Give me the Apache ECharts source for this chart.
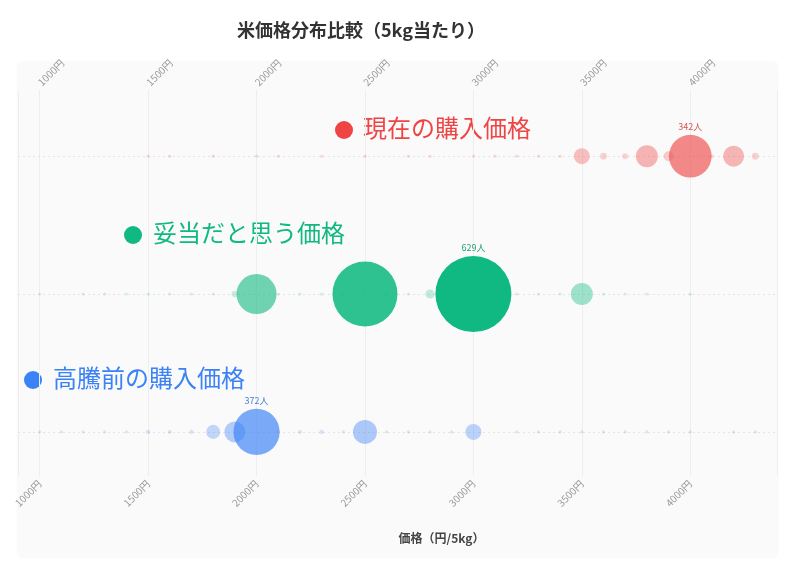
<!DOCTYPE html>
<html>
<head>
<meta charset="utf-8">
<script src="https://cdn.jsdelivr.net/npm/echarts@6/dist/echarts.min.js"></script>
<style>
  html, body { margin: 0; padding: 0; background: #fff; }
  #main { width: 787px; height: 572px; }
</style>
</head>
<body>
<div id="main"></div>
<script>
// 価格帯（円/5kg）
var prices = [1000, 1100, 1200, 1300, 1400, 1500, 1600, 1700, 1800, 1900,
              2000, 2100, 2200, 2300, 2400, 2500, 2600, 2700, 2800, 2900,
              3000, 3100, 3200, 3300, 3400, 3500, 3600, 3700, 3800, 3900,
              4000, 4100, 4200, 4300];

var rowNames = ['高騰前の購入価格', '妥当だと思う価格', '現在の購入価格'];
var rowColors = ['#3b82f6', '#10b981', '#ef4444'];
var labelColors = ['#4a7fd6', '#1f9e73', '#d45555'];

// 人数（読み取り値）
var beforeCounts = [1, 1, 1, 1, 1, 12, 8, 10, 95, 155,
                    372, 5, 8, 12, 2, 181, 2, 1, 1, 3,
                    112, 0, 1, 1, 1, 2, 1, 1, 1, 1,
                    2, 0, 1, 1];
var fairCounts   = [1, 0, 1, 1, 1, 2, 1, 1, 1, 30,
                    319, 2, 2, 2, 5, 534, 4, 1, 52, 8,
                    629, 4, 1, 1, 1, 164, 1, 1, 1, 0,
                    2, 0, 0, 0];
var nowCounts    = [0, 0, 0, 0, 0, 1, 1, 0, 1, 0,
                    2, 1, 0, 1, 0, 2, 0, 1, 1, 0,
                    3, 1, 1, 1, 2, 112, 34, 26, 164, 60,
                    342, 8, 155, 34];

var rows = [beforeCounts, fairCounts, nowCounts];

function buildData(counts, rowIndex) {
    var out = [];
    counts.forEach(function (c, i) {
        if (c > 0) out.push([prices[i], rowIndex, c]);
    });
    return out;
}

var chart = echarts.init(document.getElementById('main'));

var series = rows.map(function (counts, r) {
    var rowMax = Math.max.apply(null, counts);
    return {
        name: rowNames[r],
        type: 'scatter',
        data: buildData(counts, r),
        itemStyle: { color: rowColors[r], opacity: 1 },
        label: {
            show: true,
            position: 'top',
            distance: 4,
            fontSize: 9,
            color: labelColors[r],
            formatter: function (p) {
                return p.value[2] === rowMax ? p.value[2] + '人' : '';
            }
        },
        emphasis: { disabled: true },
        markLine: {
            silent: true,
            z: 1,
            symbol: 'none',
            label: { show: false },
            lineStyle: { color: '#e4e4e4', type: [2, 3], width: 1 },
            data: [{ yAxis: r }]
        },
        z: 3
    };
});

function priceLabel(v) {
    return v + '円';
}

var option = {
    backgroundColor: '#fff',
    textStyle: { fontFamily: '"Noto Sans CJK JP", "Noto Sans", sans-serif' },
    title: {
        text: '米価格分布比較（5kg当たり）',
        left: 232,
        top: 16,
        textStyle: { fontSize: 18, fontWeight: 'bold', color: '#333' }
    },
    graphic: [
        {
            type: 'rect', z: -10, silent: true,
            shape: { x: 18, y: 62, width: 759, height: 495, r: 4 },
            style: { fill: '#fafafa', shadowBlur: 3, shadowColor: 'rgba(0,0,0,0.06)' }
        },
        { type: 'circle', shape: { cx: 344, cy: 130, r: 9 }, style: { fill: rowColors[2] } },
        { type: 'text', left: 363, top: 116, style: { text: rowNames[2], fill: rowColors[2], font: '24px "Noto Sans CJK JP"' } },
        { type: 'circle', shape: { cx: 133, cy: 235, r: 9 }, style: { fill: rowColors[1] } },
        { type: 'text', left: 153, top: 221, style: { text: rowNames[1], fill: rowColors[1], font: '24px "Noto Sans CJK JP"' } },
        { type: 'circle', shape: { cx: 33, cy: 380, r: 9 }, style: { fill: rowColors[0] } },
        { type: 'text', left: 53, top: 366, style: { text: rowNames[0], fill: rowColors[0], font: '24px "Noto Sans CJK JP"' } }
    ],
    grid: { left: 18, right: 10, top: 90, bottom: 96 },
    visualMap: {
        type: 'continuous',
        show: false,
        min: 0,
        max: 629,
        dimension: 2,
        inRange: { symbolSize: [3, 76], colorAlpha: [0.18, 1] }
    },
    xAxis: [
        {
            type: 'value',
            position: 'bottom',
            min: 900,
            max: 4400,
            splitNumber: 7,
            name: '価格（円/5kg）',
            nameLocation: 'middle',
            nameGap: 56,
            nameTextStyle: { fontSize: 12, fontWeight: 'bold', color: '#444', padding: [0, 0, 0, 88] },
            axisLine: { show: false },
            axisTick: { show: false },
            axisLabel: {
                rotate: 45, fontSize: 10, color: '#999', margin: 6,
                showMinLabel: false, showMaxLabel: false,
                formatter: priceLabel
            },
            splitLine: { show: true, lineStyle: { color: '#eeeeee' } }
        },
        {
            type: 'value',
            position: 'top',
            min: 900,
            max: 4400,
            splitNumber: 7,
            axisLine: { show: false },
            axisTick: { show: false },
            axisLabel: {
                rotate: -45, fontSize: 10, color: '#999', margin: 6,
                showMinLabel: false, showMaxLabel: false,
                formatter: priceLabel
            },
            splitLine: { show: false }
        }
    ],
    yAxis: {
        type: 'value',
        min: -0.32,
        max: 2.48,
        show: false,
        splitLine: { show: false }
    },
    series: series
};

chart.setOption(option);
</script>
</body>
</html>
